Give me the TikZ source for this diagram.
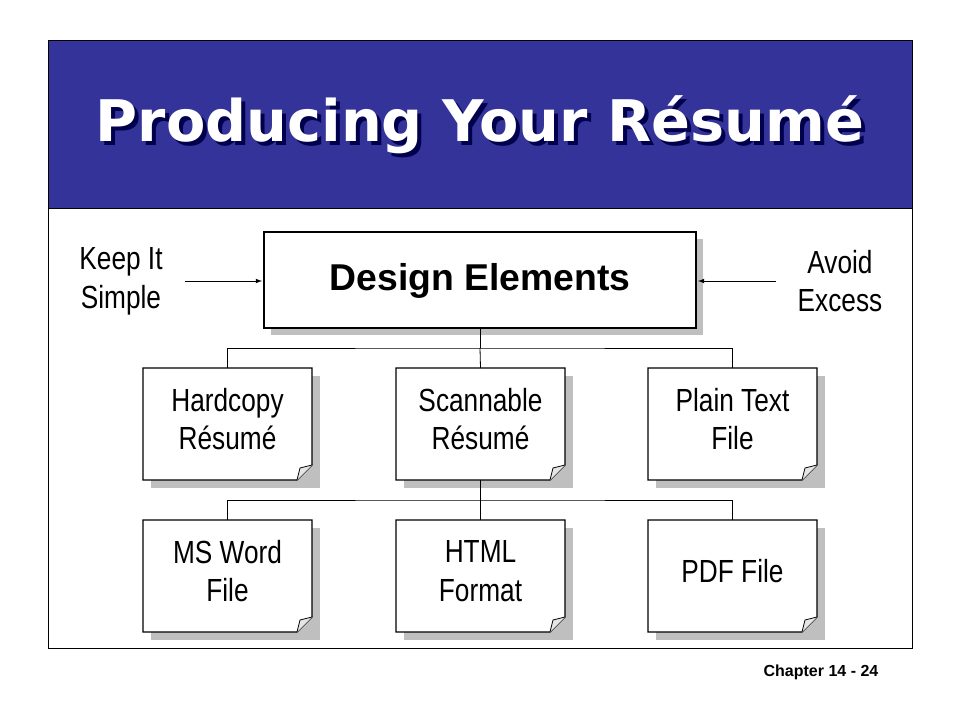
\documentclass[tikz,border=0pt]{standalone}
\usepackage{fontspec}
\setmainfont[FakeStretch=0.82]{Liberation Sans}
\newfontfamily\titlefont{DejaVu Sans}
\newfontfamily\plainsans{Liberation Sans}
\begin{document}
\begin{tikzpicture}[x=0.75pt,y=-0.75pt,
  doc/.style={fill=white,draw=black,line width=0.8pt},
  shad/.style={fill=black!25},
  lbl/.style={font=\fontsize{24}{29}\selectfont,align=center},
  conn/.style={line width=0.6pt}]
\useasboundingbox (0,0) rectangle (960,720);
\fill[white] (0,0) rectangle (960,720);
\fill[fill={rgb,255:red,51;green,51;blue,153}] (48,40) rectangle (912,208);
\draw[line width=0.6pt] (48,40) rectangle (912,648);
\draw[line width=0.6pt] (48,208) -- (912,208);
\fill[black!70!blue] (0,0) circle (0pt);
\node[font=\titlefont\bfseries\fontsize{43}{46}\selectfont,text=white,
  preaction={}] (title) at (480,127) {\makebox[0pt]{\textcolor{black!70!blue}{\raisebox{-3pt}{\hspace{6pt}Producing Your Résumé}}}\makebox[0pt]{Producing Your Résumé}};
% design elements
\fill[shad] (271,239) rectangle (703,335);
\draw[doc] (264,232) rectangle (696,328);
\node[font=\plainsans\bfseries\fontsize{28}{32}\selectfont] (de) at (480,281) {Design Elements};
\coordinate (deb) at (480,328);
% small boxes
\foreach \n/\x/\y/\t in {hc/143/368/{Hardcopy\\Résumé},sc/396/368/{Scannable\\Résumé},pt/648/368/{Plain Text\\File},ms/143/520/{MS Word\\File},ht/396/520/{HTML\\Format},pdf/648/520/{PDF File}}{
  \fill[shad] (\x+8,\y+8) rectangle (\x+177,\y+120);
  \draw[doc] (\x,\y) -- (\x+169,\y) -- (\x+169,\y+97) -- (\x+154,\y+112) -- (\x,\y+112) -- cycle;
  \draw[line width=0.6pt,fill=black!10] (\x+169,\y+97) -- (\x+157,\y+100) -- (\x+154,\y+112);
  \node[lbl] (\n) at (\x+84.5,\y+51) {\t};
  \coordinate (\n t) at (\x+84.5,\y);
}
\coordinate (scb) at (480.5,480);
\draw[conn] (deb) -- (480,348) coordinate (j1);
\draw[conn] (hct) |- (j1) -| (ptt);
\draw[conn] (j1) -- (sct);
\draw[conn] (scb) -- (480.5,500) coordinate (j2);
\draw[conn] (mst) |- (j2) -| (pdft);
\draw[conn] (j2) -- (htt);
% side labels
\node[lbl] (k) at (121,281) {Keep It\\Simple};
\node[lbl] (a) at (840,281) {Avoid\\Excess};
\draw[conn,-latex] (185,281) -- (262,281);
\draw[conn,-latex] (776,281) -- (698,281);
\node[font=\plainsans\bfseries\fontsize{12}{14}\selectfont] (ch) at (821,672) {Chapter 14 - 24};
\end{tikzpicture}
\end{document}
